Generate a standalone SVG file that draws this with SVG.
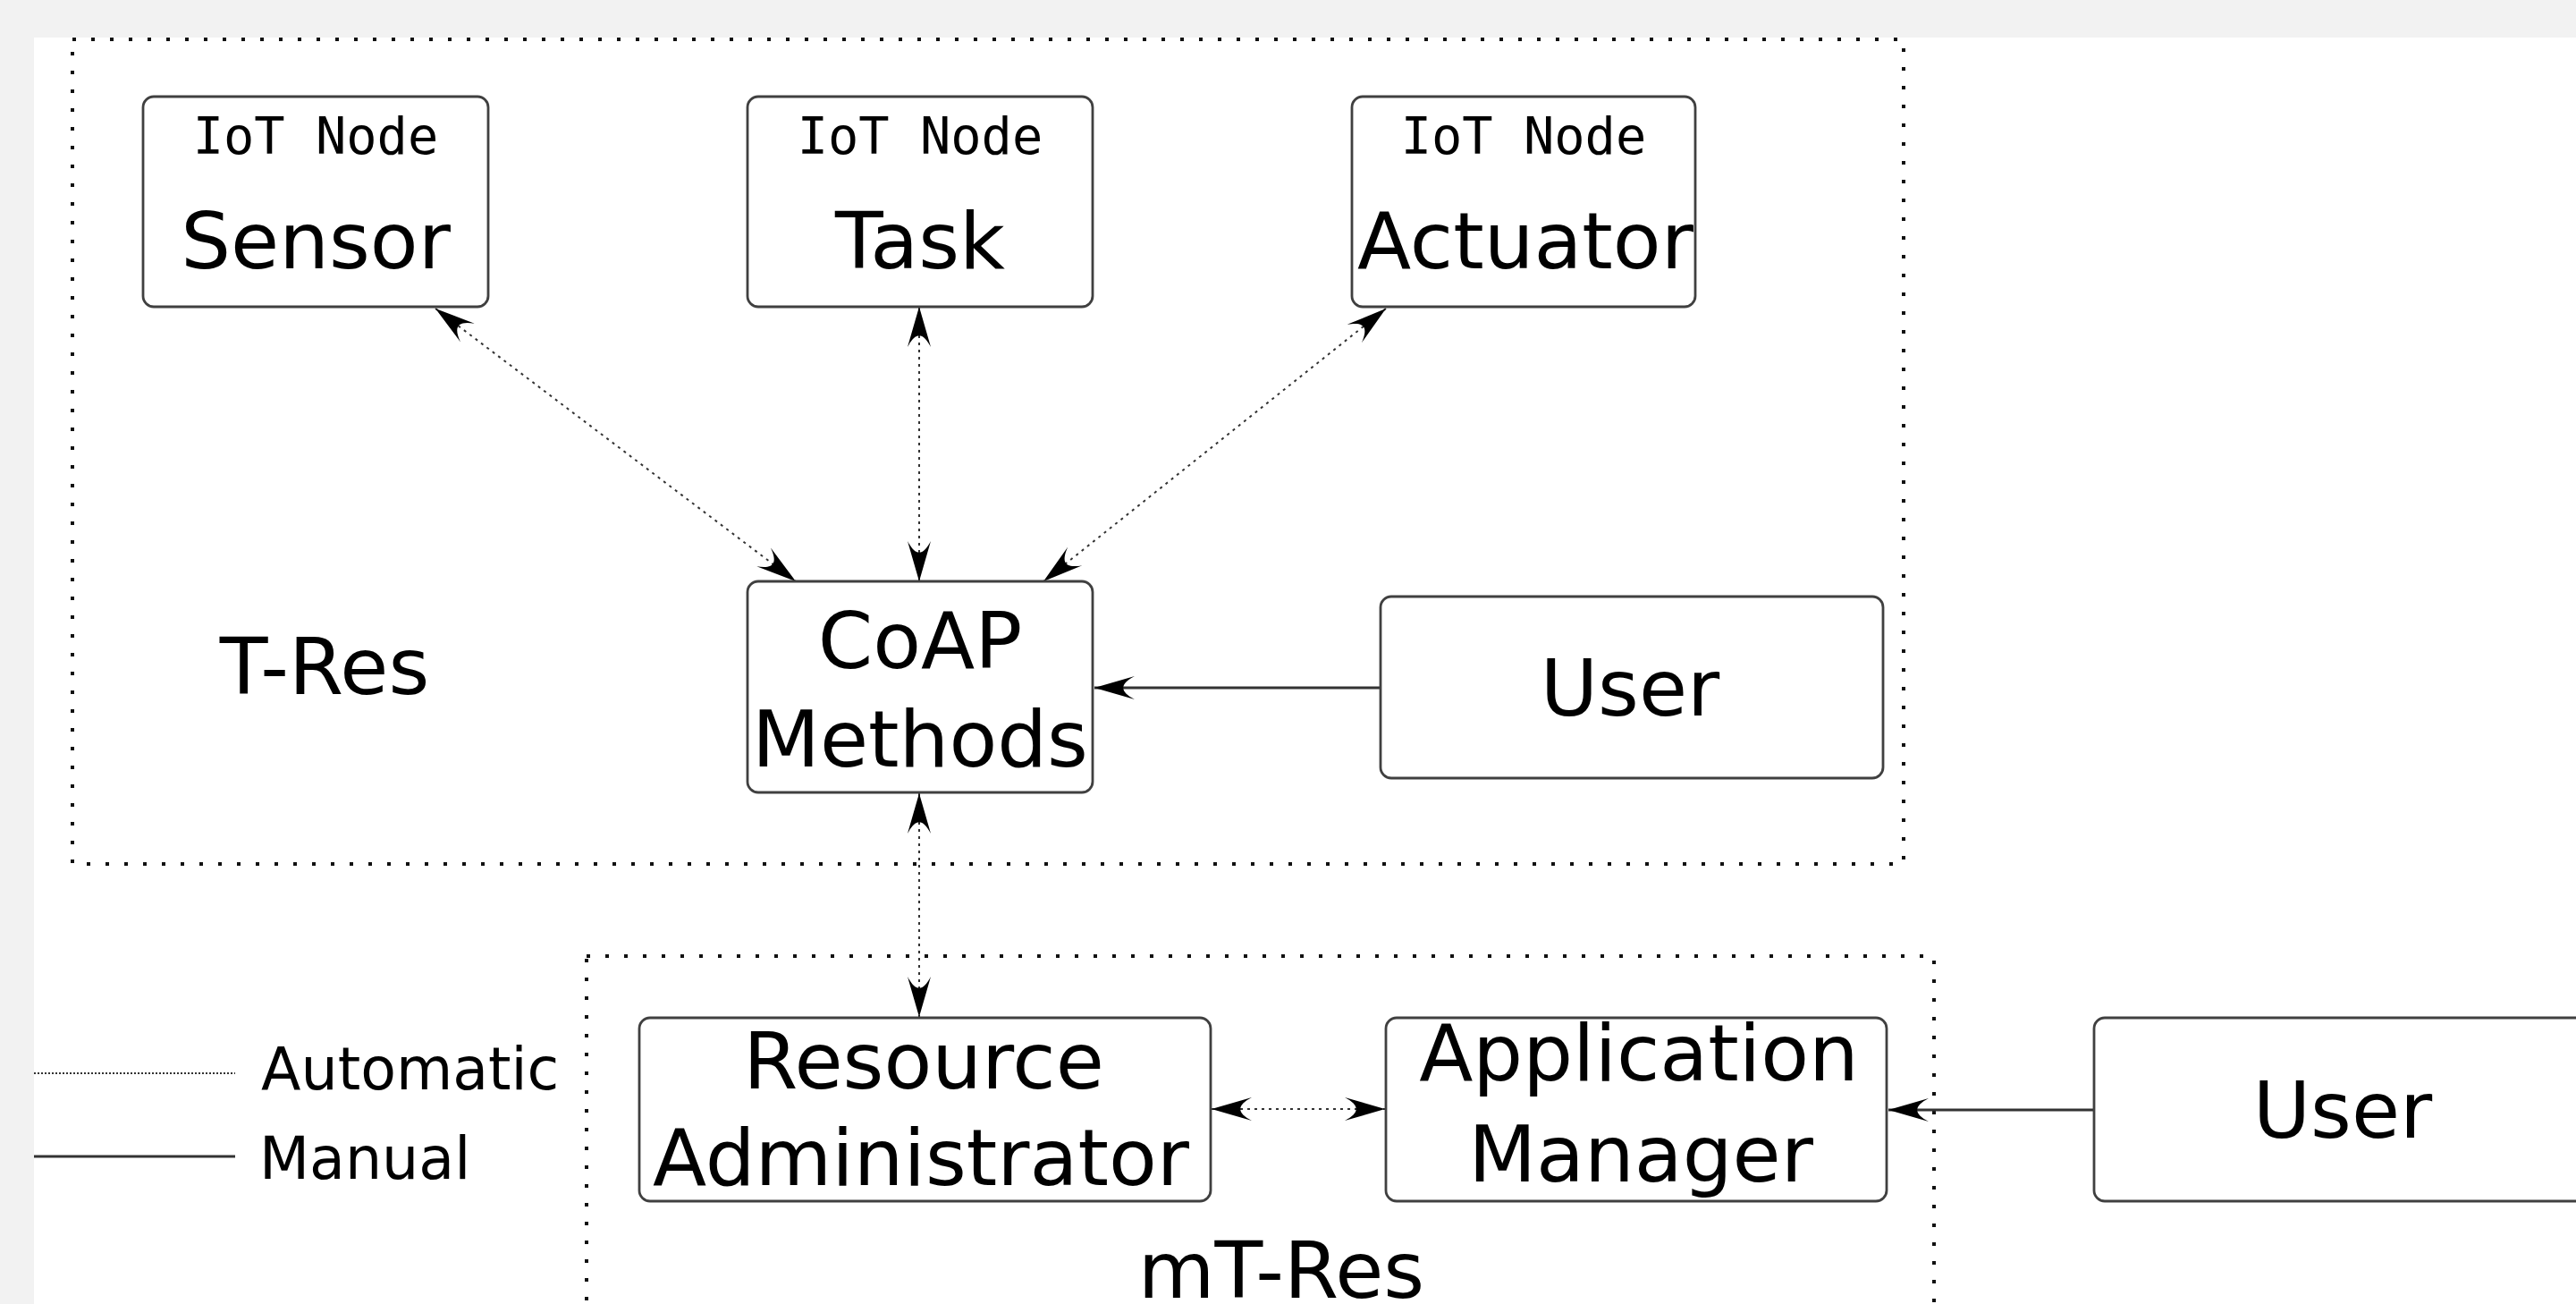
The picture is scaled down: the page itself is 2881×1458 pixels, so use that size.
<svg xmlns="http://www.w3.org/2000/svg" width="2881" height="1458" viewBox="0 0 2881 1458">
<style>
.box{fill:#fff;stroke:#404040;stroke-width:2.8}
.grp{fill:none;stroke:#111;stroke-width:4;stroke-dasharray:4 17}
.auto{fill:none;stroke:#333;stroke-width:2;stroke-dasharray:3 5}
.man{fill:none;stroke:#333;stroke-width:3}
.t{font-family:"DejaVu Sans",sans-serif;font-size:88px;fill:#000;text-anchor:middle}
.s{font-family:"DejaVu Sans Mono",monospace;font-size:57px;fill:#000;text-anchor:middle}
.l{font-family:"DejaVu Sans",sans-serif;font-size:65px;fill:#000}
</style>
<defs>
<marker id="ah" markerUnits="userSpaceOnUse" viewBox="-47 -15 49 30" refX="0" refY="0" markerWidth="49" markerHeight="30" orient="auto-start-reverse">
<path d="M0,0 L-45,-13 C-28,-4 -28,4 -45,13 Z" fill="#000"/>
</marker>
</defs>
<rect x="0" y="0" width="2881" height="1458" fill="#f2f2f2"/>
<rect x="38" y="42" width="2843" height="1416" fill="#fff"/>

<g id="t-res-group">
<rect class="grp" x="81" y="44" width="2048" height="922"/>
<text class="t" x="363" y="776">T-Res</text>
</g>
<g id="mt-res-group">
<rect class="grp" x="656" y="1069" width="1507" height="460"/>
<text class="t" x="1433" y="1451">mT-Res</text>
</g>

<g id="connectors">
<line class="auto" x1="487" y1="345" x2="890" y2="650" marker-start="url(#ah)" marker-end="url(#ah)"/>
<line class="auto" x1="1028" y1="343" x2="1028" y2="650" marker-start="url(#ah)" marker-end="url(#ah)"/>
<line class="auto" x1="1550" y1="345" x2="1167" y2="650" marker-start="url(#ah)" marker-end="url(#ah)"/>
<line class="man" x1="1544" y1="769" x2="1224" y2="769" marker-end="url(#ah)"/>
<line class="auto" x1="1028" y1="887" x2="1028" y2="1137" marker-start="url(#ah)" marker-end="url(#ah)"/>
<line class="auto" x1="1355" y1="1240" x2="1549" y2="1240" marker-start="url(#ah)" marker-end="url(#ah)"/>
<line class="man" x1="2342" y1="1241" x2="2112" y2="1241" marker-end="url(#ah)"/>
</g>

<g id="sensor">
<rect class="box" x="160" y="108" width="386" height="235" rx="12"/>
<text class="s" x="353" y="172">IoT Node</text>
<text class="t" x="353" y="300">Sensor</text>
</g>
<g id="task">
<rect class="box" x="836" y="108" width="386" height="235" rx="12"/>
<text class="s" x="1029" y="172">IoT Node</text>
<text class="t" x="1029" y="300">Task</text>
</g>
<g id="actuator">
<rect class="box" x="1512" y="108" width="384" height="235" rx="12"/>
<text class="s" x="1704" y="172">IoT Node</text>
<text class="t" x="1706" y="300">Actuator</text>
</g>
<g id="coap">
<rect class="box" x="836" y="650" width="386" height="236" rx="12"/>
<text class="t" x="1029" y="747">CoAP</text>
<text class="t" x="1029" y="857">Methods</text>
</g>
<g id="user-top">
<rect class="box" x="1544" y="667" width="562" height="203" rx="12"/>
<text class="t" x="1823" y="800">User</text>
</g>
<g id="resource-administrator">
<rect class="box" x="715" y="1138" width="639" height="205" rx="12"/>
<text class="t" x="1033" y="1217">Resource</text>
<text class="t" x="1030" y="1325">Administrator</text>
</g>
<g id="application-manager">
<rect class="box" x="1550" y="1138" width="560" height="205" rx="12"/>
<text class="t" x="1833" y="1208">Application</text>
<text class="t" x="1835" y="1321">Manager</text>
</g>
<g id="user-bottom">
<rect class="box" x="2342" y="1138" width="556" height="205" rx="12"/>
<text class="t" x="2620" y="1272">User</text>
</g>

<g id="legend">
<line x1="38" y1="1200" x2="263" y2="1200" style="fill:none;stroke:#333;stroke-dasharray:2 2;stroke-width:2"/>
<text class="l" x="292" y="1218">Automatic</text>
<line class="man" x1="38" y1="1293" x2="263" y2="1293"/>
<text class="l" x="290" y="1318">Manual</text>
</g>
</svg>
